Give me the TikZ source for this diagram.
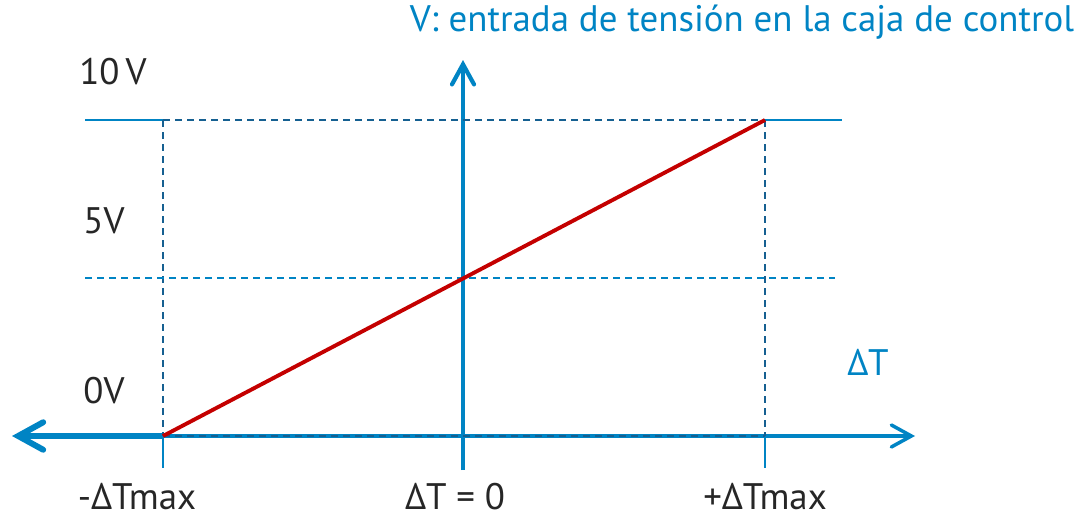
\documentclass[tikz,border=0pt]{standalone}
\usepackage{tikz, tkz-euclide}
\usepackage{fontspec}
\setmainfont{PT Sans}
\usetikzlibrary{arrows.meta}
\definecolor{axisblue}{RGB}{0,132,196}
\definecolor{dashblue}{RGB}{22,96,145}
\definecolor{linered}{RGB}{196,0,0}
\tikzset{
  axis/.style = {draw = axisblue, line width = 2pt, -{Straight Barb[length = 0.4cm, width = 0.44cm, line cap = round]}},
  guide/.style = {draw = dashblue, line width = 1.3pt, dash pattern = on 0.14cm off 0.1cm},
  tick/.style = {draw = axisblue, line width = 1.2pt},
  lbl/.style = {font = \fontsize{21}{25}\selectfont, text = black!85, inner sep = 0pt},
}

\begin{document}
\begin{tikzpicture}
\useasboundingbox (0,0) rectangle (21.58,10.38);
\tkzDefPoints{3.26/1.66/L, 15.30/7.98/R, 9.26/4.82/M, 0.24/1.66/W, 18.30/1.66/E}
\tkzDefPoints{9.26/0.98/S, 9.26/9.18/N, 3.26/1.02/Lb, 15.30/1.02/Rb}
\tkzDefPoints{1.70/7.98/Ta, 3.26/7.98/Tb, 16.84/7.98/Tc, 1.70/4.82/Fa, 16.70/4.82/Fb}
% axes
\draw[axis, line width = 3.4pt, -{Straight Barb[length = 0.5cm, width = 0.55cm, line cap = round]}] (L) -- (W);
\draw[axis, line width = 2pt] (L) -- (E);
\draw[axis, line width = 2.4pt] (S) -- (N);
% guides
\draw[tick] (Ta) -- (Tb);
\draw[tick] (R) -- (Tc);
\draw[tick] (L) -- (Lb);
\draw[tick] (R |- L) -- (Rb);
\draw[guide] (Tb) -- (R);
\draw[guide] (Tb) -- (L);
\draw[guide] (R) -- (R |- L);
\draw[guide] (L) -- (R |- L);
\draw[guide, draw = axisblue] (Fa) -- (Fb);
% characteristic
\draw[linered, line width = 2.2pt] (L) -- (R);
% labels
\node[lbl] (v10) at (2.26,8.94) {10\,V};
\node[lbl] (v5) at (2.08,5.96) {5V};
\node[lbl] (v0) at (2.08,2.56) {0V};
\node[lbl] (tmin) at (2.74,0.44) {-ΔTmax};
\node[lbl] (tzero) at (9.10,0.44) {ΔT = 0};
\node[lbl] (tmax) at (15.30,0.44) {+ΔTmax};
\node[lbl, text = axisblue] (dT) at (17.36,3.14) {ΔT};
\node[lbl, text = axisblue] (title) at (14.84,9.94) {V: entrada de tensión en la caja de control};
\end{tikzpicture}
\end{document}
